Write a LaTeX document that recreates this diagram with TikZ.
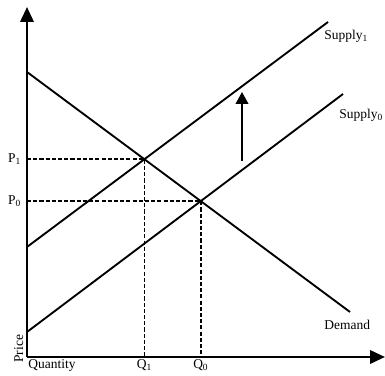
\documentclass[tikz,border=0pt]{standalone}
\usepackage{fontspec}
\setmainfont{Liberation Serif}
\usetikzlibrary{arrows.meta}

\begin{document}
\begin{tikzpicture}[x=0.03cm, y=-0.03cm]
		
		% Define styles for lines and labels
		\tikzstyle{axis} = [line width=2.2pt, -{Triangle[length=0.45cm, width=0.4cm]}]
		\tikzstyle{curve} = [line width=1.6pt]
		\tikzstyle{guide} = [line width=1.4pt, dash pattern=on 3.5pt off 1.8pt]
		\tikzstyle{lbl} = [font=\fontsize{11.5}{13}\selectfont, inner sep=1pt]
		
		\useasboundingbox (0,0) rectangle (385,376);
		
		% End points of the axes and lines
		\coordinate (origin) at (27,357);
		\coordinate (ytop) at (27,7);
		\coordinate (xend) at (385,357);
		\coordinate (demA) at (27,72);
		\coordinate (demB) at (350,312);
		\coordinate (supOneA) at (27,247);
		\coordinate (supOneB) at (328,22);
		\coordinate (supZeroA) at (27,332);
		\coordinate (supZeroB) at (343,94);
		
		% Equilibria
		\coordinate (eqOne) at (intersection of demA--demB and supOneA--supOneB);
		\coordinate (eqZero) at (intersection of demA--demB and supZeroA--supZeroB);
		
		% Axes
		\draw[axis] (origin) -- (ytop);
		\draw[axis] (origin) -- (xend);
		
		% Demand and supply lines
		\draw[curve] (demA) -- (demB);
		\draw[curve] (supOneA) -- (supOneB);
		\draw[curve] (supZeroA) -- (supZeroB);
		
		% Dashed guides
		\draw[guide] (origin |- eqOne) -- (eqOne) -- (eqOne |- origin);
		\draw[guide] (origin |- eqZero) -- (eqZero) -- (eqZero |- origin);
		
		% Shift arrow
		\coordinate (shiftA) at (242,161);
		\coordinate (shiftB) at (242,92);
		\draw[line width=1.6pt, -{Triangle[length=0.36cm, width=0.38cm]}] (shiftA) -- (shiftB);
		
		% Labels
		\node[lbl, anchor=east] (pOne) at (origin |- eqOne) [xshift=-4pt] {P\textsubscript{1}};
		\node[lbl, anchor=east] (pZero) at (origin |- eqZero) [xshift=-4pt] {P\textsubscript{0}};
		\node[lbl, anchor=north] (qOne) at (eqOne |- origin) [yshift=-1pt] {Q\textsubscript{1}};
		\node[lbl, anchor=north] (qZero) at (eqZero |- origin) [yshift=-1pt] {Q\textsubscript{0}};
		\node[lbl, anchor=north west] (quantity) at (origin) [yshift=-1pt] {Quantity};
		\node[lbl, rotate=90, anchor=south west] (price) at (origin) [xshift=-6pt, yshift=2pt] {Price};
		\node[lbl, anchor=west] (demand) at (323,325) {Demand};
		\node[lbl, anchor=west] (supplyOne) at (323,36) {Supply\textsubscript{1}};
		\node[lbl, anchor=west] (supplyZero) at (338,115) {Supply\textsubscript{0}};
		
	\end{tikzpicture}
\end{document}
